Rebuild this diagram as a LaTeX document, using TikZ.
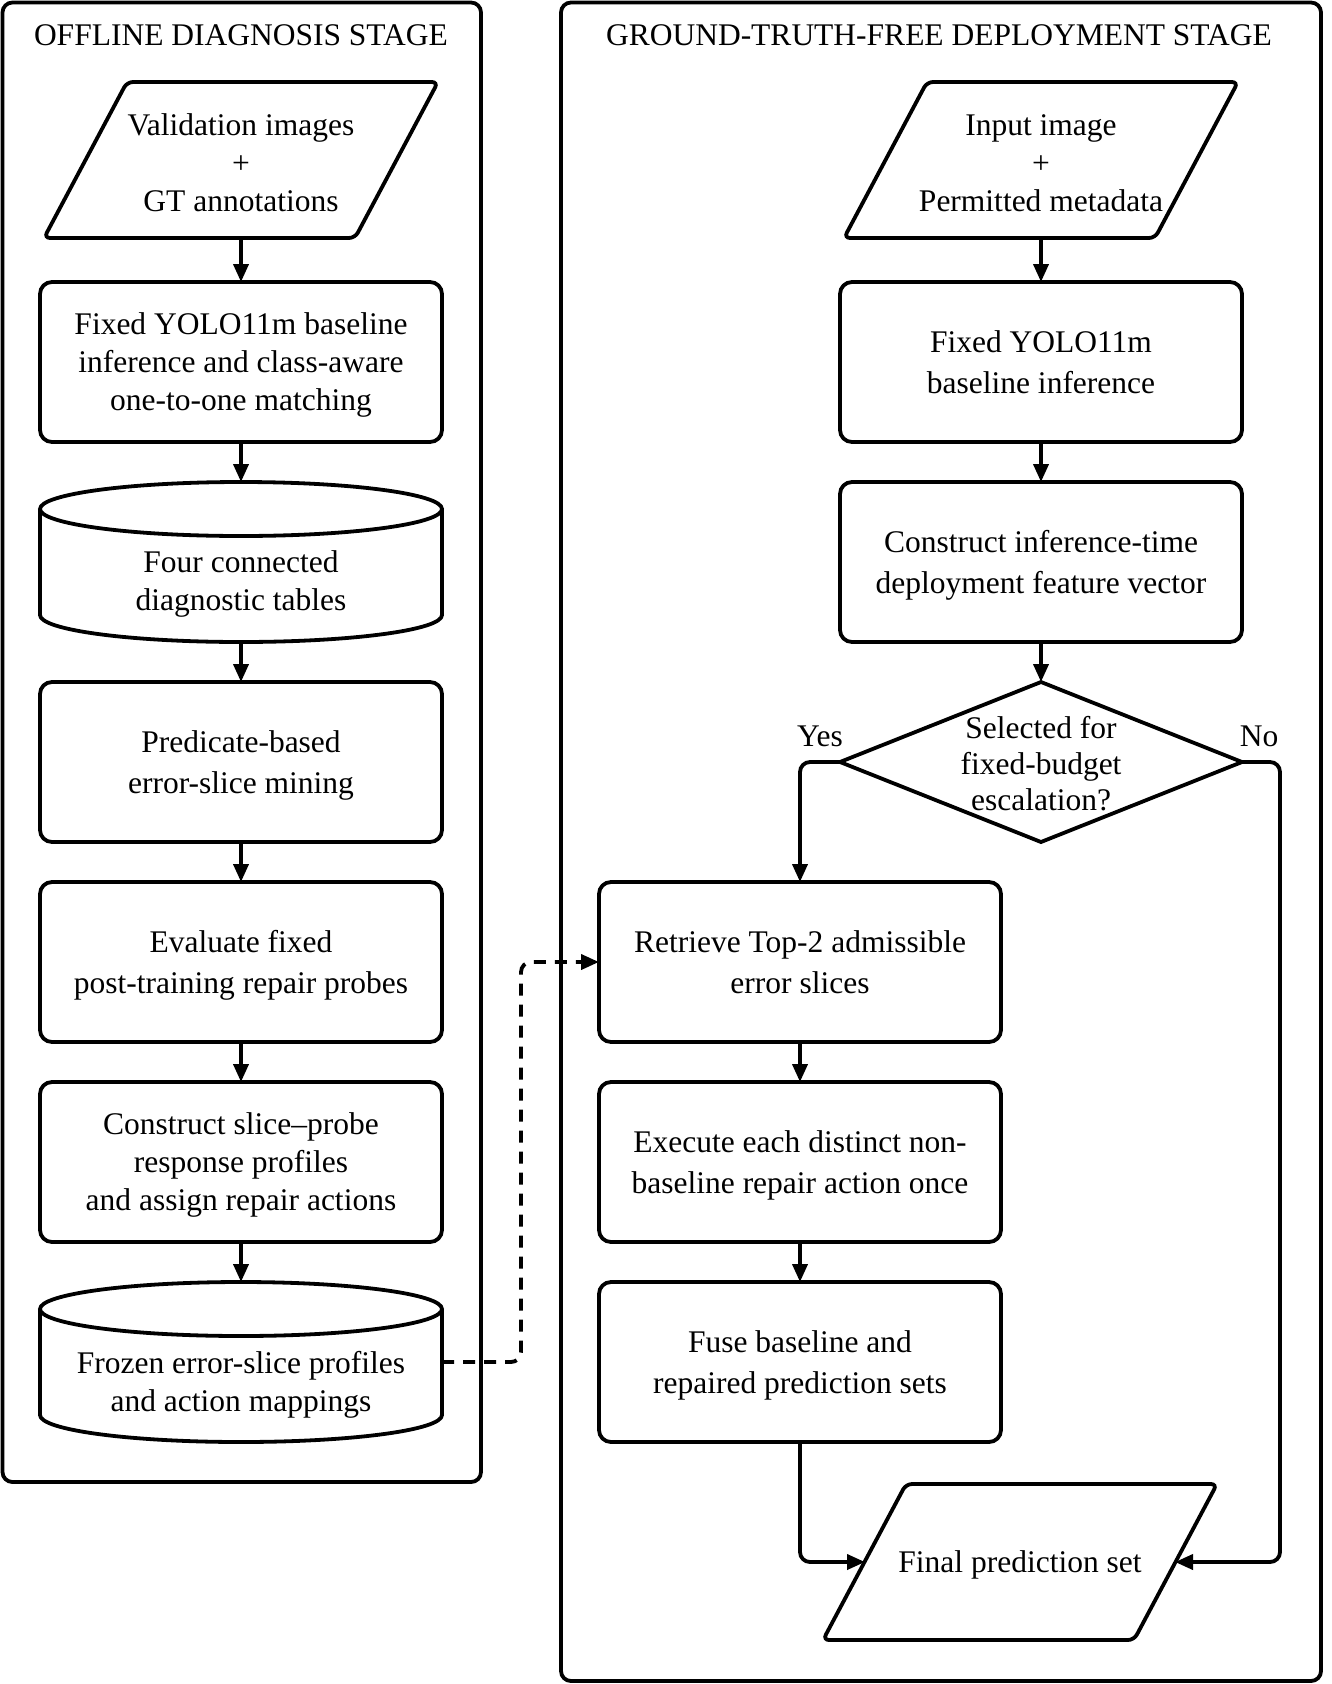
\documentclass[tikz,border=0pt]{standalone}
\usepackage{fontspec}
\setmainfont{Liberation Serif}
\usetikzlibrary{arrows.meta,shapes.geometric}

\tikzset{every picture/.style={line width=3.8pt}}
\tikzset{
  lbl/.style={font=\fontsize{31.5}{38}\selectfont, inner sep=0pt, outer sep=0pt, align=center, text depth=-3pt},
  procbox/.style={lbl, draw, rounded corners=12pt, minimum width=402pt, minimum height=160pt,
    font=\fontsize{31.5}{41}\selectfont},
  tightbox/.style={procbox, font=\fontsize{31.5}{38}\selectfont},
  iobox/.style={lbl, minimum width=310pt, minimum height=150pt},
  dbbox/.style={lbl, minimum width=402pt, minimum height=160pt},
  decision/.style={draw, diamond, inner sep=0pt, outer sep=0pt, minimum width=402pt, minimum height=160pt},
  frame/.style={draw, rounded corners=10pt},
  flow/.style={-{Triangle[length=18pt,width=15pt]}, rounded corners=10pt},
  feed/.style={flow, dash pattern=on 12pt off 9pt},
}

\begin{document}
\begin{tikzpicture}[x=1pt,y=1pt,yscale=-1,xscale=1]
\useasboundingbox (0,0) rectangle (1331,1684);

%Shape: Stage frames
\draw[frame] (2.5,2.5) rectangle (481,1482);
\draw[frame] (561,2.5) rectangle (1321,1681);

% Text Node
\node[lbl, anchor=base] (offtitle) at (241,45) {OFFLINE DIAGNOSIS STAGE};
% Text Node
\node[lbl, anchor=base] (deptitle) at (939,45) {GROUND-TRUTH-FREE DEPLOYMENT STAGE};

%Shape: Parallelograms (data in / out)
\foreach \px/\py in {241/160,1041/160,1020/1562}
  \draw[rounded corners=6pt] ({\px-114},{\py-78}) -- ({\px+197},{\py-78}) -- ({\px+114},{\py+78}) -- ({\px-197},{\py+78}) -- cycle;

%Shape: Cylinders (stored tables)
\foreach \cy in {482,1282} {
  \draw (40,{\cy+27}) -- (40,{\cy+133}) .. controls (40,{\cy+148}) and (130,{\cy+160}) .. (241,{\cy+160}) .. controls (352,{\cy+160}) and (442,{\cy+148}) .. (442,{\cy+133}) -- (442,{\cy+27});
  \draw (241,{\cy+27}) ellipse [x radius=201pt, y radius=27pt];
}

% offline column
\node[iobox] (valid) at (241,163) {Validation images\\+\\GT annotations};
\node[tightbox] (match) at (241,362) {Fixed YOLO11m baseline\\inference and class-aware\\one-to-one matching};
\node[dbbox] (tables) at (241,562) {};
\node[lbl] (tablestxt) at (241,581) {Four connected\\diagnostic tables};
\node[procbox] (mine) at (241,762) {Predicate-based\\error-slice mining};
\node[procbox] (probe) at (241,962) {Evaluate fixed\\post-training repair probes};
\node[tightbox] (prof) at (241,1162) {Construct slice--probe\\response profiles\\and assign repair actions};
\node[dbbox] (frozen) at (241,1362) {};
\node[lbl] (frozentxt) at (241,1381) {Frozen error-slice profiles\\and action mappings};

% deployment column
\node[iobox] (input) at (1041,163) {Input image\\+\\Permitted metadata};
\node[procbox] (rbase) at (1041,362) {Fixed YOLO11m\\baseline inference};
\node[procbox] (feat) at (1041,562) {Construct inference-time\\deployment feature vector};
\node[decision] (select) at (1041,762) {};
\node[lbl, font=\fontsize{31.5}{36}\selectfont] (selecttxt) at (1041,763) {Selected for\\fixed-budget\\escalation?};
\node[procbox] (retr) at (800,962) {Retrieve Top-2 admissible\\error slices};
\node[procbox] (exec) at (800,1162) {Execute each distinct non-\\baseline repair action once};
\node[procbox] (fuse) at (800,1362) {Fuse baseline and\\repaired prediction sets};
\node[iobox, minimum height=156pt] (final) at (1020,1562) {Final prediction set};

% Text Node
\node[lbl, anchor=base] (yes) at (820,746) {Yes};
% Text Node
\node[lbl, anchor=base] (no) at (1259,746) {No};

\coordinate (relay) at (521,1362);
\coordinate (nobend) at (1280,762);

%Straight Lines
\draw[flow] (valid.south) -- (match.north);
\draw[flow] (match.south) -- (tables.north);
\draw[flow] (tables.south) -- (mine.north);
\draw[flow] (mine.south) -- (probe.north);
\draw[flow] (probe.south) -- (prof.north);
\draw[flow] (prof.south) -- (frozen.north);
\draw[feed] (frozen.east) -- (relay) |- (retr.west);

\draw[flow] (input.south) -- (rbase.north);
\draw[flow] (rbase.south) -- (feat.north);
\draw[flow] (feat.south) -- (select.north);
\draw[flow] (select.west) -| (retr.north);
\draw[flow] (select.east) -- (nobend) |- (final.east);
\draw[flow] (retr.south) -- (exec.north);
\draw[flow] (exec.south) -- (fuse.north);
\draw[flow] (fuse.south) |- (final.west);

\end{tikzpicture}
\end{document}
